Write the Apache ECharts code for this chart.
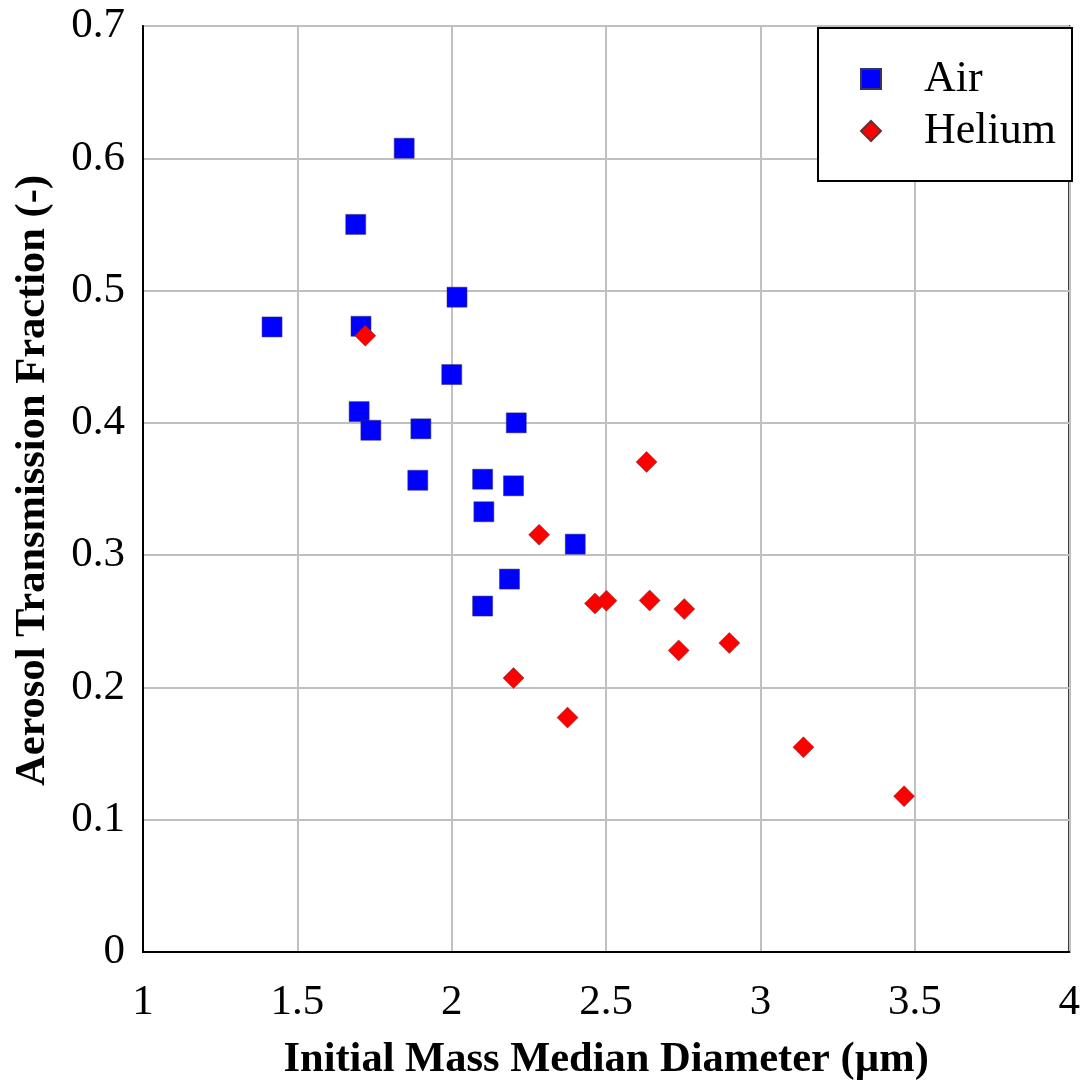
<!DOCTYPE html>
<html>
<head>
<meta charset="utf-8">
<script src="https://cdn.jsdelivr.net/npm/echarts@6/dist/echarts.min.js"></script>
<style>
html,body{margin:0;padding:0;background:#fff;}
#chart{width:1083px;height:1087px;}
</style>
</head>
<body>
<div id="chart"></div>
<script>
var airX = [1.418, 1.846, 1.689, 1.706, 2.017, 2.000, 1.700, 1.738, 1.900, 2.209, 1.890, 2.100, 2.200, 2.104, 2.400, 2.187, 2.100];
var airY = [0.4725, 0.6076, 0.550, 0.473, 0.495, 0.4365, 0.4085, 0.3944, 0.3955, 0.400, 0.3566, 0.3574, 0.3524, 0.3328, 0.3083, 0.2819, 0.2615];
var heX = [1.720, 2.631, 2.283, 2.464, 2.501, 2.641, 2.753, 2.735, 2.899, 2.200, 2.375, 3.139, 3.465];
var heY = [0.4659, 0.3705, 0.3154, 0.2635, 0.2656, 0.2658, 0.2592, 0.228, 0.2336, 0.2071, 0.1772, 0.1548, 0.1178];
var seriesNames = ['Air', 'Helium'];
var xTitle = 'Initial Mass Median Diameter (\u00b5m)';
var yTitle = 'Aerosol Transmission Fraction (-)';

function pairs(xs, ys) { return xs.map(function (x, i) { return [x, ys[i]]; }); }

var font = '"Liberation Serif", "Times New Roman", serif';
var chart = echarts.init(document.getElementById('chart'));
chart.setOption({
  animation: false,
  backgroundColor: '#ffffff',
  textStyle: { fontFamily: font },
  grid: { left: 143, top: 26, right: 10, bottom: 134, show: true, borderColor: '#000', borderWidth: 2, backgroundColor: 'transparent' },
  xAxis: {
    type: 'value', min: 1, max: 4, interval: 0.5,
    name: xTitle, nameLocation: 'middle', nameGap: 87,
    nameTextStyle: { fontFamily: font, fontWeight: 'bold', fontSize: 42.5, color: '#000' },
    axisLine: { show: true, lineStyle: { color: '#000', width: 2 } },
    axisTick: { show: false },
    axisLabel: { fontFamily: font, fontSize: 43, color: '#000', margin: 29 },
    splitLine: { show: true, lineStyle: { color: '#c0c0c0', width: 2 } }
  },
  yAxis: {
    type: 'value', min: 0, max: 0.7, interval: 0.1,
    name: yTitle, nameLocation: 'middle', nameGap: 88, nameRotate: 90,
    nameTextStyle: { fontFamily: font, fontWeight: 'bold', fontSize: 42.5, color: '#000', padding: [0, 0, 0, 17] },
    axisLine: { show: true, lineStyle: { color: '#000', width: 2 } },
    axisTick: { show: false },
    axisLabel: { fontFamily: font, fontSize: 43, color: '#000', margin: 18 },
    splitLine: { show: true, lineStyle: { color: '#c0c0c0', width: 2 } }
  },
  graphic: [{
    type: 'rect', z: 3, left: 817, top: 27,
    shape: { width: 254, height: 153 },
    style: { fill: '#fff', stroke: '#000', lineWidth: 2 }
  }],
  legend: {
    z: 5, orient: 'vertical', left: 855, top: 52,
    itemWidth: 20, itemHeight: 20, itemGap: 8,
    textStyle: { fontFamily: font, fontSize: 44, color: '#000', padding: [0, 0, 0, 38] },
    data: [
      { name: seriesNames[0], icon: 'rect' },
      { name: seriesNames[1], icon: 'diamond' }
    ]
  },
  series: [
    {
      name: seriesNames[0], type: 'scatter', symbol: 'rect', symbolSize: 20,
      itemStyle: { color: '#0000ff', opacity: 1, borderColor: '#333366', borderWidth: 0.5 },
      data: pairs(airX, airY), z: 2
    },
    {
      name: seriesNames[1], type: 'scatter', symbol: 'diamond', symbolSize: [21, 21],
      itemStyle: { color: '#ff0000', opacity: 1, borderColor: '#663333', borderWidth: 0.5 },
      data: pairs(heX, heY), z: 3
    }
  ]
});
</script>
</body>
</html>
